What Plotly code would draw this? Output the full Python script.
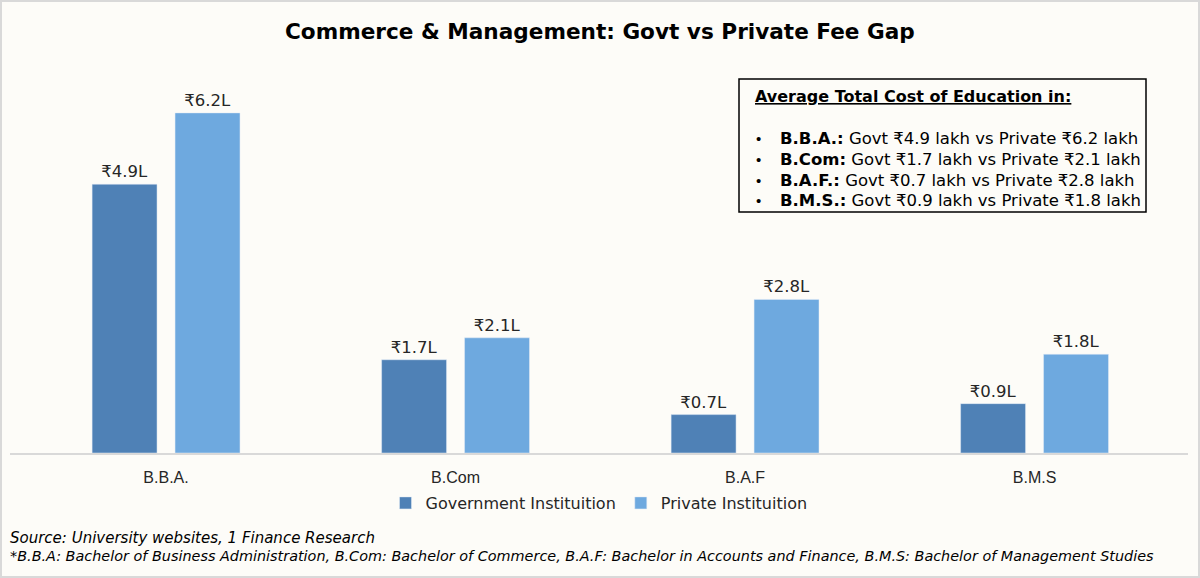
import plotly.graph_objects as go

courses = ["B.B.A.", "B.Com", "B.A.F", "B.M.S"]
govt_fee = [4.9, 1.7, 0.7, 0.9]
private_fee = [6.2, 2.1, 2.8, 1.8]

box_title = "Average Total Cost of Education in:"
box_heads = ["B.B.A.:", "B.Com:", "B.A.F.:", "B.M.S.:"]
box_rest = [
    "Govt ₹4.9 lakh vs Private ₹6.2 lakh",
    "Govt ₹1.7 lakh vs Private ₹2.1 lakh",
    "Govt ₹0.7 lakh vs Private ₹2.8 lakh",
    "Govt ₹0.9 lakh vs Private ₹1.8 lakh",
]

source_note = "Source: University websites, 1 Finance Research"
abbr_note = ("*B.B.A: Bachelor of Business Administration, B.Com: Bachelor of Commerce, "
             "B.A.F: Bachelor in Accounts and Finance, B.M.S: Bachelor of Management Studies")

FONT = "Liberation Sans, Arial, DejaVu Sans"
WIDE = "DejaVu Sans"
BG = "#FDFCF8"

# pixel helpers (plot area: x 10..1188, y 69..453)
L, R, T, B = 10, 12, 69, 125
W, H = 1200, 578
pw, ph = W - L - R, H - T - B


def px(x):
    return (x - L) / pw


def py(y):
    return (H - B - y) / ph


fig = go.Figure()
fig.add_trace(go.Bar(
    x=courses, y=govt_fee, name="Government Instituition",
    marker_color="#4F81B6",
    text=["₹%.1fL" % v for v in govt_fee], textposition="outside",
    textfont=dict(family=WIDE, size=16.5, color="#262626"), cliponaxis=False,
))
fig.add_trace(go.Bar(
    x=courses, y=private_fee, name="Private Instituition",
    marker_color="#6EA9DF",
    text=["₹%.1fL" % v for v in private_fee], textposition="outside",
    textfont=dict(family=WIDE, size=16.5, color="#262626"), cliponaxis=False,
))

fig.update_layout(
    width=W, height=H,
    margin=dict(l=L, r=R, t=T, b=B),
    paper_bgcolor=BG, plot_bgcolor=BG,
    font=dict(family=FONT, color="#262626"),
    barmode="group", bargap=0.427, bargroupgap=0.217,
    showlegend=True,
    legend=dict(orientation="h", x=0.5, xanchor="center", y=py(503), yanchor="middle",
                font=dict(family=WIDE, size=16, color="#262626"), bgcolor="rgba(0,0,0,0)",
                itemwidth=30),
)
fig.update_xaxes(
    type="category", range=[-0.539, 3.530],
    showline=True, linecolor="#D9D9D9", linewidth=2,
    ticks="outside", ticklen=9, tickcolor=BG,
    tickfont=dict(size=16, color="#262626"),
    showgrid=False, zeroline=False,
)
fig.update_yaxes(visible=False, range=[0, 7])

# chart title
fig.add_annotation(text="<b>Commerce & Management: Govt vs Private Fee Gap</b>",
                   xref="paper", yref="paper", x=px(600), y=py(32),
                   xanchor="center", yanchor="middle", showarrow=False,
                   font=dict(family=WIDE, size=21.6, color="#000000"))

# summary box
fig.add_shape(type="rect", xref="paper", yref="paper",
              x0=px(739), x1=px(1146), y0=py(212), y1=py(79),
              line=dict(color="#000000", width=1.5), fillcolor=BG)
fig.add_annotation(text="<b><u>" + box_title + "</u></b>",
                   xref="paper", yref="paper", x=px(753), y=py(97),
                   xanchor="left", yanchor="middle", showarrow=False,
                   font=dict(family=WIDE, size=16, color="#000000"))
line_y = [138, 159, 180, 200]
for head, rest, yy in zip(box_heads, box_rest, line_y):
    fig.add_annotation(text="•", xref="paper", yref="paper", x=px(754), y=py(yy),
                       xanchor="left", yanchor="middle", showarrow=False,
                       font=dict(size=15, color="#000000"))
    fig.add_annotation(text="<b>" + head + "</b> " + rest,
                       xref="paper", yref="paper", x=px(778), y=py(yy),
                       xanchor="left", yanchor="middle", showarrow=False,
                       font=dict(family=WIDE, size=16.5, color="#000000"))

# notes
fig.add_annotation(text="<i>" + source_note + "</i>", xref="paper", yref="paper",
                   x=px(8), y=py(538), xanchor="left", yanchor="middle",
                   showarrow=False, font=dict(family=WIDE, size=15, color="#000000"))
fig.add_annotation(text="<i>" + abbr_note + "</i>", xref="paper", yref="paper",
                   x=px(8), y=py(556), xanchor="left", yanchor="middle",
                   showarrow=False, font=dict(family=WIDE, size=14.4, color="#000000"))

# outer frame
fig.add_shape(type="rect", xref="paper", yref="paper",
              x0=px(1), x1=px(1199), y0=py(577), y1=py(1),
              line=dict(color="#D9D9D9", width=2), layer="below")

fig.write_html("out.html", config={"displayModeBar": False},
               post_script="document.body.style.margin='0';")
